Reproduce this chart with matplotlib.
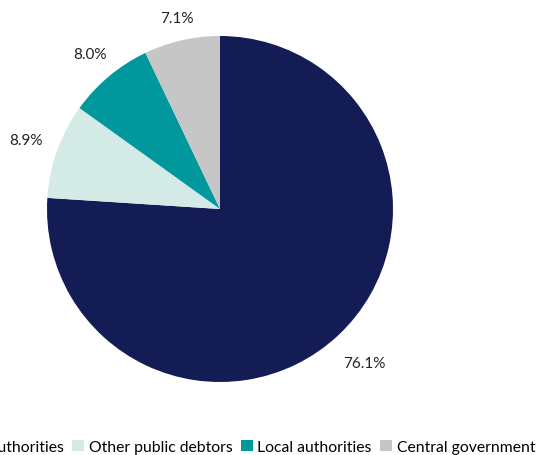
import matplotlib
matplotlib.use("Agg")
import matplotlib.pyplot as plt
import numpy as np

categories = ["Regional authorities", "Other public debtors", "Local authorities", "Central government"]
values = [76.1, 8.9, 8.0, 7.1]
colors = ["#141C55", "#D4EAE6", "#00979D", "#C6C6C6"]
label_dist = [1.22, 1.19, 1.17, 1.13]

plt.rcParams['font.family'] = ['Lato', 'DejaVu Sans']

W, H = 537, 456
fig = plt.figure(figsize=(W / 100, H / 100), dpi=100)
cx, cy, r = 220, 210, 173
ax = fig.add_axes([(cx - r) / W, (H - cy - r) / H, 2 * r / W, 2 * r / H])

wedges, _ = ax.pie(values, colors=colors, startangle=90, counterclock=False,
                   radius=1, wedgeprops=dict(linewidth=0))
for w, v, d in zip(wedges, values, label_dist):
    ang = np.deg2rad((w.theta1 + w.theta2) / 2)
    ax.text(d * np.cos(ang), d * np.sin(ang), f"{v:.1f}%", ha="center", va="center",
            fontsize=11, color="#222222", clip_on=False)
ax.set_xlim(-1, 1)
ax.set_ylim(-1, 1)
ax.set_aspect("equal")
ax.axis("off")

fig.legend(wedges, categories, loc="center right", bbox_to_anchor=(1.0, 1 - 448 / H),
           ncol=4, frameon=False, fontsize=11.3, handlelength=0.75, handleheight=0.75,
           handletextpad=0.3, columnspacing=0.55, borderpad=0, borderaxespad=0.1)

fig.savefig("out.png", dpi=100)
